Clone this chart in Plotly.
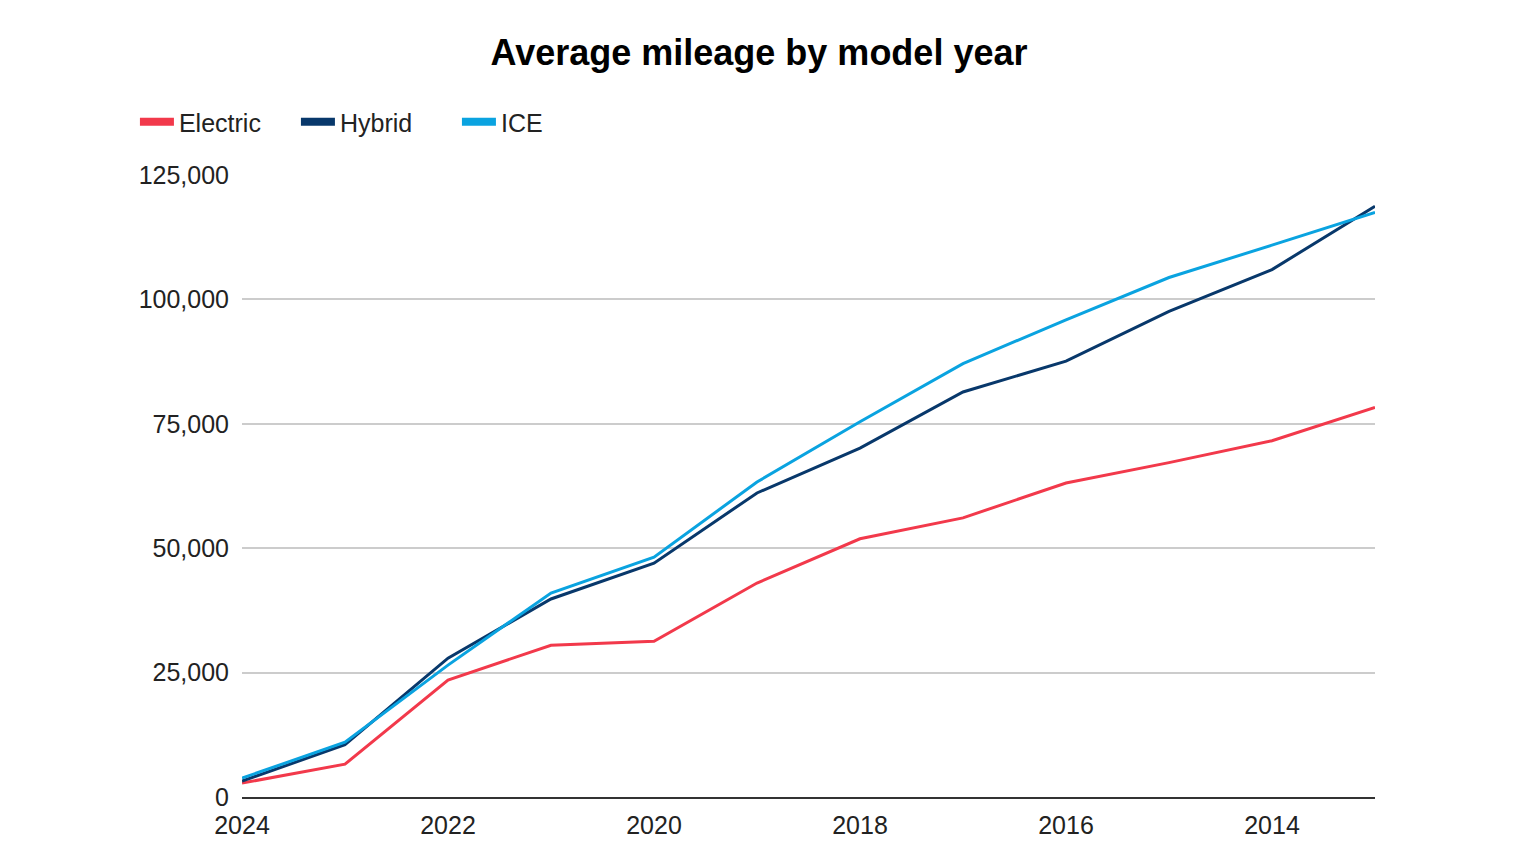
import plotly.graph_objects as go

years = [2024, 2023, 2022, 2021, 2020, 2019, 2018, 2017, 2016, 2015, 2014, 2013]
electric = [2800, 6600, 23500, 30500, 31300, 43000, 51900, 56100, 63100, 67200, 71600, 78300]
hybrid = [3200, 10500, 27900, 39800, 47000, 61100, 70100, 81400, 87600, 97600, 106000, 118700]
ice = [3800, 11000, 26500, 41000, 48200, 63300, 75400, 87100, 95900, 104400, 110900, 117500]

series_names = ["Electric", "Hybrid", "ICE"]
series_values = [electric, hybrid, ice]
colors = ["#F2394B", "#08386B", "#0AA3E0"]

x_tickvals = [2024, 2022, 2020, 2018, 2016, 2014]
x_ticktext = ["2024", "2022", "2020", "2018", "2016", "2014"]
y_tickvals = [0, 25000, 50000, 75000, 100000, 125000]

font_family = "Liberation Sans, Arial, sans-serif"

# page body adds an 8px offset; compensate in margins/positions
W, H = 1518, 854
off = 8

fig = go.Figure()
for name, vals, col in zip(series_names, series_values, colors):
    fig.add_trace(go.Scatter(
        x=years, y=vals, mode="lines", name=name,
        line=dict(color=col, width=3), legendgroup=name, showlegend=False,
        hovertemplate="%{x}: %{y:,}<extra>" + name + "</extra>",
    ))
for name, col in zip(series_names, colors):
    fig.add_trace(go.Scatter(
        x=[None], y=[None], mode="lines", name=name,
        line=dict(color=col, width=8), legendgroup=name, showlegend=True,
        hoverinfo="skip",
    ))

fig.update_layout(
    width=W, height=H,
    margin=dict(l=242 - off, r=W - 1375 + off, t=175 - off, b=H - 797 + off),
    paper_bgcolor="white", plot_bgcolor="white",
    font=dict(family=font_family, size=25, color="#222222"),
    title=dict(text="<b>Average mileage by model year</b>", x=(759 - off) / W, xref="container",
               xanchor="center", y=1 - (52 - off) / H, yref="container", yanchor="middle",
               font=dict(family=font_family, size=36, color="#000000")),
    legend=dict(orientation="h", x=-0.0945, xanchor="left", y=1 - (122 - off) / H, yref="container",
                yanchor="middle", font=dict(size=25, color="#222222"),
                itemwidth=34, entrywidth=112, traceorder="normal", bgcolor="rgba(0,0,0,0)"),
    xaxis=dict(range=[2024, 2013], tickvals=x_tickvals, ticktext=x_ticktext,
               showgrid=False, zeroline=False, showline=True, linecolor="#333333",
               linewidth=2, ticks="", ticklabelstandoff=5, fixedrange=True),
    yaxis=dict(range=[0, 125000], tickvals=y_tickvals, tickformat=",",
               showgrid=True, gridcolor="#CCCCCC", gridwidth=1.5, zeroline=False,
               showline=False, ticks="", ticklabelstandoff=12, fixedrange=True),
    showlegend=True,
)

fig.write_html("out.html")
